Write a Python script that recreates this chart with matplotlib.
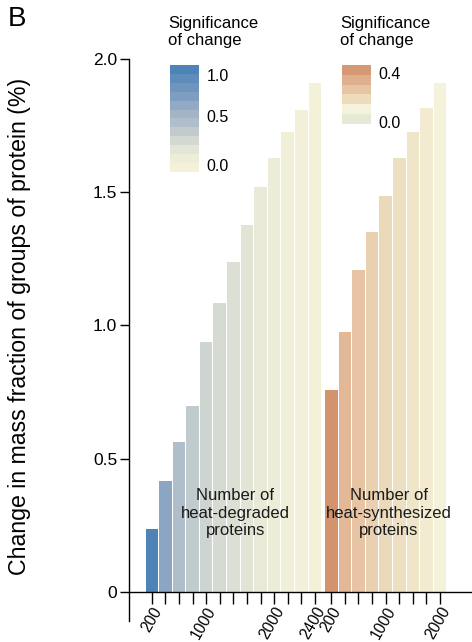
import matplotlib
matplotlib.use("Agg")
import matplotlib.pyplot as plt
from matplotlib.colors import LinearSegmentedColormap, Normalize
import numpy as np

plt.rcParams['font.family'] = ['Liberation Sans', 'DejaVu Sans']

#----------------------------------------------------------------------------------------#
# data

# heat-degraded proteins (cumulative groups)
deg_change = [0.236, 0.417, 0.563, 0.698, 0.938, 1.086, 1.238, 1.377, 1.52, 1.629, 1.726, 1.807, 1.91]
deg_signif = [1.0, 0.67, 0.46, 0.37, 0.30, 0.26, 0.22, 0.19, 0.14, 0.11, 0.07, 0.03, 0.01]
deg_ticklabels = ['200', '', '', '', '1000', '', '', '', '', '2000', '', '', '2400']

# heat-synthesized proteins
syn_change = [0.758, 0.976, 1.208, 1.351, 1.486, 1.629, 1.726, 1.816, 1.91]
syn_signif = [0.44, 0.26, 0.20, 0.15, 0.11, 0.085, 0.06, 0.03, 0.0]
syn_ticklabels = ['200', '', '', '', '1000', '', '', '', '2000']

yticks = [0, 0.5, 1.0, 1.5, 2.0]
yticklabels = ['0', '0.5', '1.0', '1.5', '2.0']

#----------------------------------------------------------------------------------------#
# colour scales

blue_cmap = LinearSegmentedColormap.from_list('deg', [
    (0.0, '#f5f1d9'), (0.09, '#eeeed8'), (0.18, '#e3e6d6'), (0.27, '#d3d9d1'),
    (0.36, '#c2cccd'), (0.45, '#b0bfca'), (0.55, '#a1b3c6'), (0.64, '#91a9c4'),
    (0.73, '#7f9dc0'), (0.82, '#6f95bd'), (0.91, '#5e8cbb'), (1.0, '#4d83b7')])
blue_norm = Normalize(0, 1.0)

orange_cmap = LinearSegmentedColormap.from_list('syn', [
    (0.0, '#f4f2da'), (0.1 / 0.45, '#ecdcbc'), (0.2 / 0.45, '#e6c4a4'),
    (0.3 / 0.45, '#dfb08d'), (0.4 / 0.45, '#d59a73'), (1.0, '#d2916b')])
orange_norm = Normalize(0, 0.45)

#----------------------------------------------------------------------------------------#

fig = plt.figure(figsize=(4.72, 6.42), dpi=100)
ax = fig.add_axes([0.2733, 0.0327, 0.7267, 0.8754])

x_deg = np.arange(len(deg_change))
x_syn = 13.2 + np.arange(len(syn_change))

ax.bar(x_deg, deg_change, width=0.92, color=blue_cmap(blue_norm(deg_signif)), zorder=2)
ax.bar(x_syn, syn_change, width=0.92, color=orange_cmap(orange_norm(syn_signif)), zorder=2)

ax.set_xlim(-1.674, 23.55)
ax.set_ylim(-0.109, 2.0)

ax.spines['top'].set_visible(False)
ax.spines['right'].set_visible(False)
ax.spines['bottom'].set_position(('data', 0))
ax.spines['left'].set_linewidth(1.0)
ax.spines['bottom'].set_linewidth(1.0)

ax.set_xticks(np.concatenate([x_deg, x_syn]))
ax.set_xticklabels(deg_ticklabels + syn_ticklabels, rotation=60, ha='right',
                   va='top', rotation_mode='anchor', fontsize=11.2)
ax.tick_params(axis='x', direction='out', length=8.5, width=1, pad=0.5)

ax.set_yticks(yticks)
ax.set_yticklabels(yticklabels, fontsize=12.5)
ax.tick_params(axis='y', direction='out', length=6.5, width=1, pad=2)

ax.text(6.14, 0.296, 'Number of\nheat-degraded\nproteins', ha='center', va='center',
        fontsize=12, color='#1a1a1a', zorder=3)
ax.text(17.43, 0.296, 'Number of\nheat-synthesized\nproteins', ha='center', va='center',
        fontsize=12, color='#1a1a1a', zorder=3)

fig.text(0.042, 0.4914, 'Change in mass fraction of groups of protein (%)',
         rotation=90, ha='center', va='center', fontsize=16.7)
fig.text(0.017, 0.99, 'B', fontsize=20, va='top', ha='left')

#----------------------------------------------------------------------------------------#
# significance legends

fig.text(168 / 472, 1 - 16 / 642, 'Significance\nof change', fontsize=12, va='top', ha='left')
fig.text(340 / 472, 1 - 16 / 642, 'Significance\nof change', fontsize=12, va='top', ha='left')

lax = fig.add_axes([0.3602, 0.7321, 0.0614, 0.1667])
levels = np.linspace(0, 1, 12)
lax.bar(np.zeros(len(levels)), np.ones(len(levels)), bottom=np.arange(len(levels)),
        width=1, color=blue_cmap(blue_norm(levels)))
lax.set_xlim(-0.5, 0.5)
lax.set_ylim(0, len(levels))
lax.set_xticks([])
lax.yaxis.tick_right()
lax.set_yticks([0.78, 6.28, 10.88])
lax.set_yticklabels(['0.0', '0.5', '1.0'], fontsize=11.5)
lax.tick_params(axis='y', length=0, pad=5.5)
for s in lax.spines.values():
    s.set_visible(False)

rax = fig.add_axes([0.7239, 0.8069, 0.0621, 0.0919])
o_levels = [0.0, 0.1, 0.2, 0.3, 0.4]
rax.bar([0], [1], bottom=[0], width=1, color='#e6e9d6')
rax.bar(np.zeros(len(o_levels)), np.ones(len(o_levels)), bottom=1 + np.arange(len(o_levels)),
        width=1, color=orange_cmap(orange_norm(o_levels)))
rax.set_xlim(-0.5, 0.5)
rax.set_ylim(0, 6)
rax.set_xticks([])
rax.yaxis.tick_right()
rax.set_yticks([0.23, 5.16])
rax.set_yticklabels(['0.0', '0.4'], fontsize=11.5)
rax.tick_params(axis='y', length=0, pad=5.5)
for s in rax.spines.values():
    s.set_visible(False)

plt.savefig('out.png', dpi=100)
